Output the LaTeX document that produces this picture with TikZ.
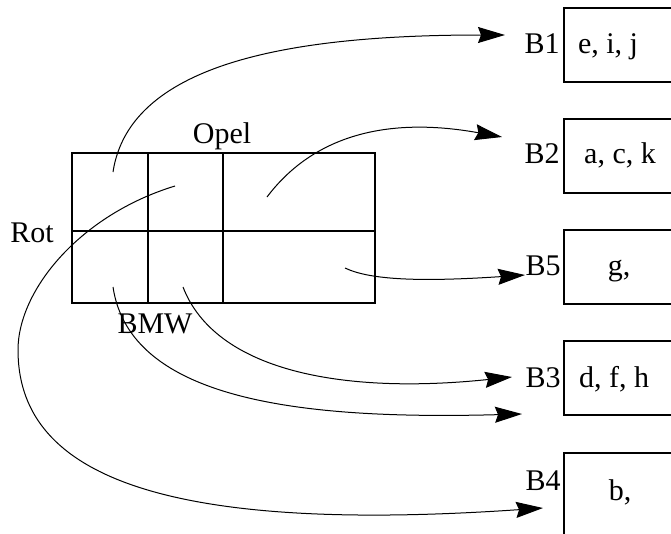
\documentclass[tikz,border=0pt]{standalone}
\usepackage{fontspec}
\setmainfont{Liberation Serif}
\usetikzlibrary{arrows.meta}
\begin{document}
\begin{tikzpicture}[x=1pt,y=-1pt,
  lbl/.style={font=\fontsize{30}{30}\selectfont, inner sep=0pt, anchor=base},
  bin/.style={draw, line width=2pt, minimum width=130pt, minimum height=74pt, anchor=north west, inner sep=0pt},
  gridline/.style={line width=2pt},
  conn/.style={line width=1pt, -{Stealth[length=27pt,width=16pt,inset=3pt]}}]
\useasboundingbox (0,0) rectangle (671,533);
\clip (0,0) rectangle (671,533);
% grid
\draw[gridline] (72,153) rectangle (375,303);
\draw[gridline] (148,153) -- (148,303);
\draw[gridline] (223,153) -- (223,303);
\draw[gridline] (72,231) -- (375,231);
% labels
\node[lbl] (opel) at (222,143) {Opel};
\node[lbl] (rot) at (32,242) {Rot};
\node[lbl] (bmw) at (155,333) {BMW};
% bins
\node[bin] (b1) at (563,7) {};
\node[bin] (b2) at (563,118) {};
\node[bin] (b5) at (563,229) {};
\node[bin] (b3) at (563,340) {};
\node[bin, minimum height=110pt] (b4) at (563,452) {};
\node[lbl] (l1) at (542,53) {B1};
\node[lbl] (l2) at (542,163) {B2};
\node[lbl] (l5) at (543,275) {B5};
\node[lbl] (l3) at (543,387) {B3};
\node[lbl] (l4) at (543,490) {B4};
\node[lbl] (c1) at (608,53) {e, i, j};
\node[lbl] (c2) at (620,163) {a, c, k};
\node[lbl] (c5) at (619,275) {g,};
\node[lbl] (c3) at (614,387) {d, f, h};
\node[lbl] (c4) at (620,500) {b,};
% connectors
\coordinate (s1) at (113,172); \coordinate (t1) at (505,35);
\coordinate (s2) at (267,197); \coordinate (t2) at (502,137);
\coordinate (s3) at (345,268); \coordinate (t3) at (525,275);
\coordinate (s4) at (183,287); \coordinate (t4) at (512,377);
\coordinate (s5) at (113,287); \coordinate (t5) at (522,414);
\coordinate (s6) at (175,186); \coordinate (t6) at (543,508);
\draw[conn] (s1) .. controls (130,60) and (300,35) .. (t1);
\draw[conn] (s2) .. controls (310,140) and (380,115) .. (t2);
\draw[conn] (s3) .. controls (370,280) and (420,282) .. (t3);
\draw[conn] (s4) .. controls (215,370) and (340,395) .. (t4);
\draw[conn] (s5) .. controls (130,400) and (300,420) .. (t5);
\draw[conn] (s6) .. controls (80,215) and (18,290) .. (18,350) .. controls (18,470) and (150,535) .. (t6);
\end{tikzpicture}
\end{document}
